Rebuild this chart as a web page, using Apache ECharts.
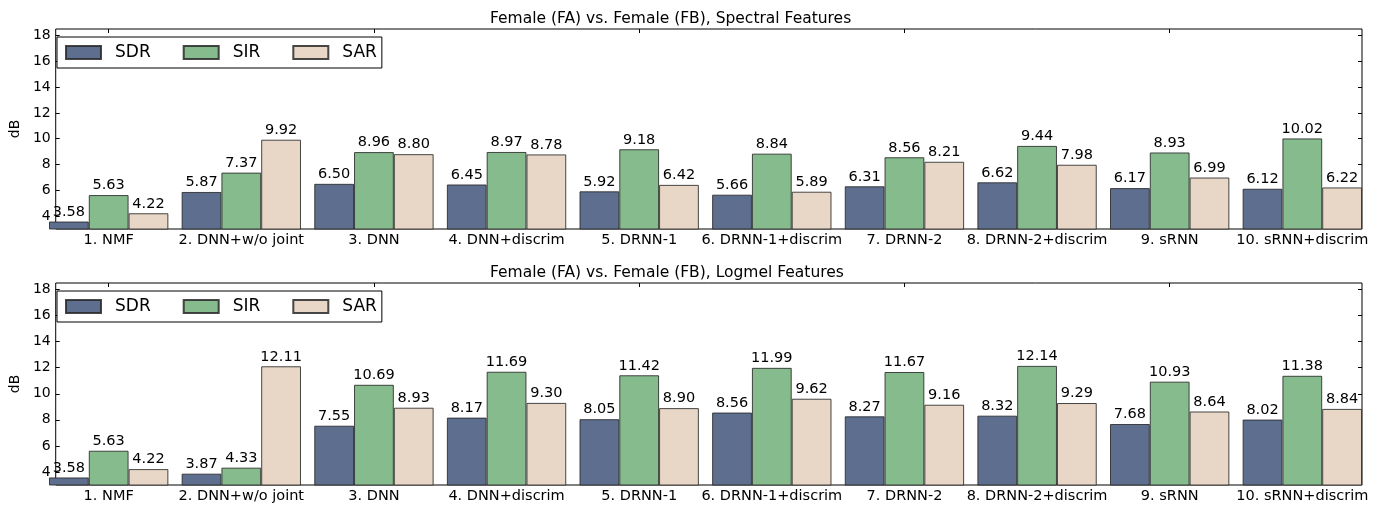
<!DOCTYPE html>
<html>
<head>
<meta charset="utf-8">
<script src="https://cdn.jsdelivr.net/npm/echarts@6/dist/echarts.min.js"></script>
<style>
  html, body { margin: 0; padding: 0; background: #fff; }
  #chart { width: 1376px; height: 506px; }
</style>
</head>
<body>
<div id="chart"></div>
<script>
// categories and values
var categories = ['1. NMF', '2. DNN+w/o joint', '3. DNN', '4. DNN+discrim', '5. DRNN-1',
  '6. DRNN-1+discrim', '7. DRNN-2', '8. DRNN-2+discrim', '9. sRNN', '10. sRNN+discrim'];
var seriesNames = ['SDR', 'SIR', 'SAR'];
var yTicks = [4, 6, 8, 10, 12, 14, 16, 18];

// spectral features (top)
var specSDR = [3.58, 5.87, 6.50, 6.45, 5.92, 5.66, 6.31, 6.62, 6.17, 6.12];
var specSIR = [5.63, 7.37, 8.96, 8.97, 9.18, 8.84, 8.56, 9.44, 8.93, 10.02];
var specSAR = [4.22, 9.92, 8.80, 8.78, 6.42, 5.89, 8.21, 7.98, 6.99, 6.22];

// logmel features (bottom)
var logSDR = [3.58, 3.87, 7.55, 8.17, 8.05, 8.56, 8.27, 8.32, 7.68, 8.02];
var logSIR = [5.63, 4.33, 10.69, 11.69, 11.42, 11.99, 11.67, 12.14, 10.93, 11.38];
var logSAR = [4.22, 12.11, 8.93, 9.30, 8.90, 9.62, 9.16, 9.29, 8.64, 8.84];

var colors = ['#5d6e8f', '#86bb8d', '#e8d7c6'];
var font = 'DejaVu Sans';

var chart = echarts.init(document.getElementById('chart'));

var plotLeft = 49, plotWidth = 1313;
var band = plotWidth / 9.9;           // bars fill 90% of each band, first bar touches the frame
var half = band * 0.05;

var option = {
  backgroundColor: '#fff',
  animation: false,
  color: colors,
  title: [],
  legend: [],
  grid: [],
  xAxis: [],
  yAxis: [],
  series: []
};

function addPanel(title, top, height, data) {
  var g = option.grid.length;
  // frame grid
  option.grid.push({ left: plotLeft, top: top, width: plotWidth, height: height,
    show: true, borderColor: '#000', borderWidth: 1, backgroundColor: 'transparent' });
  // bars grid (slightly wider so the first bar sits on the frame)
  option.grid.push({ left: plotLeft - half, top: top, width: plotWidth + 2 * half, height: height });

  option.title.push({
    text: title, left: 485, top: top - 23,
    textStyle: { fontFamily: font, fontSize: 15.5, fontWeight: 'normal', color: '#000' }
  });

  option.legend.push({
    data: seriesNames, left: 57, top: top + 8, orient: 'horizontal',
    icon: 'rect',
    itemWidth: 35, itemHeight: 13, itemGap: 32,
    padding: [7, 5, 7, 8],
    borderColor: '#000', borderWidth: 1, backgroundColor: '#fff',
    textStyle: { fontFamily: font, fontSize: 17, color: '#000', padding: [0, 0, 0, 9], lineHeight: 17 }
  });

  var xi = option.xAxis.length, yi = option.yAxis.length;
  // frame x axis (hidden)
  option.xAxis.push({ gridIndex: g, type: 'value', show: false, min: 0, max: 1 });
  // bars: bottom and top category axes
  option.xAxis.push({
    gridIndex: g + 1, type: 'category', data: categories, position: 'bottom',
    axisLine: { show: false },
    axisTick: { show: true, inside: true, alignWithLabel: true, length: 4, lineStyle: { color: '#000' } },
    axisLabel: { fontFamily: font, fontSize: 14.5, color: '#000', margin: 4, interval: 0 }
  });
  option.xAxis.push({
    gridIndex: g + 1, type: 'category', data: categories, position: 'top',
    axisLine: { show: false },
    axisTick: { show: true, inside: true, alignWithLabel: true, length: 4, lineStyle: { color: '#000' } },
    axisLabel: { show: false }
  });

  var yBase = {
    type: 'value', min: 3, max: 18.5,
    splitLine: { show: false },
    axisLine: { show: false },
    axisTick: { show: true, inside: true, length: 4, customValues: yTicks, lineStyle: { color: '#000' } }
  };
  option.yAxis.push(Object.assign({}, yBase, {
    gridIndex: g, position: 'left',
    name: 'dB', nameLocation: 'middle', nameGap: 31,
    nameTextStyle: { fontFamily: font, fontSize: 14, color: '#000' },
    axisLabel: { fontFamily: font, fontSize: 14, color: '#000', margin: 5, customValues: yTicks }
  }));
  option.yAxis.push(Object.assign({}, yBase, {
    gridIndex: g, position: 'right', axisLabel: { show: false }
  }));
  option.yAxis.push({ gridIndex: g + 1, type: 'value', min: 3, max: 18.5, show: false });

  data.forEach(function (vals, k) {
    option.series.push({
      name: seriesNames[k], type: 'bar', data: vals,
      xAxisIndex: xi + 1, yAxisIndex: yi + 2,
      barGap: '0%', barCategoryGap: '10%',
      itemStyle: { color: colors[k], borderColor: 'rgba(40,40,40,0.85)', borderWidth: 1 },
      label: {
        show: true, position: 'top', distance: 2,
        fontFamily: font, fontSize: 14.5, color: '#000',
        formatter: function (p) { return p.value.toFixed(2); }
      }
    });
  });
}

addPanel('Female (FA) vs. Female (FB), Spectral Features', 29, 200, [specSDR, specSIR, specSAR]);
addPanel('Female (FA) vs. Female (FB), Logmel Features', 283, 202, [logSDR, logSIR, logSAR]);

chart.setOption(option);
</script>
</body>
</html>
